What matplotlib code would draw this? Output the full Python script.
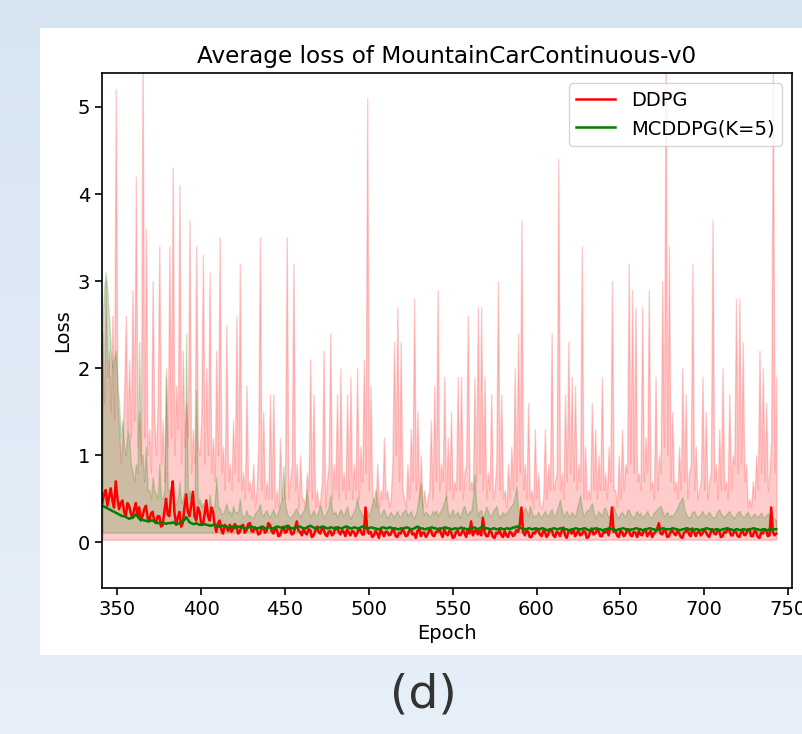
import numpy as np
import matplotlib
matplotlib.use('Agg')
import matplotlib.pyplot as plt
from matplotlib.colors import LinearSegmentedColormap
from matplotlib.patches import Rectangle

# one value per epoch
epochs = np.arange(341, 744)

# DDPG: upper edge of the shaded band, its (almost flat) floor, and the mean
ddpg_hi = [
    2.4, 1.6, 3.0, 1.9, 2.2, 1.5, 2.6, 1.4, 5.2, 1.6, 1.3, 0.9, 1.2, 1.7, 2.6, 1.3, 2.1, 1.2, 2.9, 1.4,
    4.2, 1.1, 1.5, 0.9, 5.6, 1.2, 3.6, 1.0, 1.3, 0.8, 3.0, 1.4, 1.0, 1.6, 3.4, 0.9, 1.4, 0.7, 2.0, 1.1,
    3.4, 1.2, 4.3, 1.0, 1.8, 1.3, 4.1, 0.9, 2.2, 1.1, 1.6, 1.2, 3.7, 0.8, 1.3, 0.9, 3.4, 1.1, 1.0, 1.4,
    3.3, 0.9, 2.0, 1.0, 3.1, 0.8, 1.2, 0.7, 2.2, 1.0, 3.5, 0.8, 1.1, 0.6, 2.5, 0.7, 0.9, 0.6, 1.4, 0.8,
    2.6, 0.7, 3.2, 0.6, 0.8, 0.5, 1.8, 0.6, 0.7, 0.5, 0.9, 0.4, 0.6, 1.1, 3.5, 0.6, 1.5, 0.5, 0.7, 0.5,
    1.7, 0.5, 1.7, 0.4, 0.6, 0.4, 1.2, 0.5, 0.5, 0.8, 3.5, 0.5, 0.7, 0.9, 3.2, 0.6, 0.9, 0.4, 1.0, 0.5,
    0.5, 0.4, 0.8, 0.6, 2.1, 0.5, 1.7, 0.4, 0.6, 0.4, 0.5, 0.7, 2.2, 0.4, 0.7, 0.9, 2.4, 0.5, 0.9, 0.6,
    1.7, 0.5, 2.0, 0.6, 0.8, 0.5, 1.7, 0.6, 1.9, 0.5, 0.9, 0.6, 2.0, 0.5, 1.1, 0.7, 2.1, 0.8, 5.1, 0.6,
    1.8, 0.5, 0.5, 0.4, 0.9, 0.4, 0.6, 0.5, 1.2, 0.5, 0.6, 0.4, 0.5, 0.9, 2.3, 1.0, 2.7, 0.7, 2.3, 0.6,
    0.5, 0.4, 0.9, 0.5, 1.3, 0.7, 2.8, 0.6, 1.5, 0.5, 1.0, 0.4, 0.6, 0.4, 0.5, 0.6, 1.4, 0.5, 1.8, 0.7,
    2.9, 0.6, 0.9, 0.7, 1.9, 0.5, 1.2, 0.6, 1.5, 0.5, 0.7, 0.6, 1.9, 0.6, 1.9, 0.5, 0.8, 0.9, 2.6, 0.6,
    0.7, 0.6, 1.9, 0.7, 2.7, 0.8, 2.7, 0.6, 1.9, 0.5, 0.8, 0.6, 1.7, 0.5, 0.6, 0.9, 3.0, 0.6, 1.7, 0.5,
    0.6, 0.4, 0.9, 0.5, 1.1, 0.6, 2.0, 0.7, 2.4, 0.8, 3.7, 0.6, 0.9, 0.5, 1.6, 0.5, 0.6, 0.4, 1.3, 0.5,
    0.8, 0.4, 0.4, 0.5, 1.3, 0.5, 0.9, 0.6, 2.4, 0.6, 0.7, 0.8, 4.4, 0.6, 0.8, 0.5, 1.7, 0.7, 2.3, 0.8,
    1.9, 0.7, 1.8, 0.6, 0.9, 0.7, 3.4, 0.5, 1.1, 0.5, 0.6, 0.5, 1.6, 0.6, 1.3, 0.5, 1.0, 0.6, 1.9, 0.6,
    0.8, 0.5, 1.1, 0.7, 3.0, 0.6, 0.6, 0.4, 1.0, 0.5, 1.3, 0.6, 0.9, 0.8, 3.2, 0.9, 2.9, 0.8, 2.7, 0.7,
    0.8, 0.6, 2.7, 0.7, 1.2, 0.8, 2.9, 0.6, 0.7, 0.5, 1.9, 0.6, 1.0, 0.8, 3.0, 1.1, 5.6, 1.0, 3.4, 0.7,
    1.5, 0.6, 0.7, 0.5, 1.1, 0.6, 2.0, 0.7, 1.7, 0.5, 0.8, 0.9, 3.2, 0.6, 1.1, 0.5, 0.6, 0.7, 1.9, 0.6,
    1.5, 0.5, 0.7, 0.8, 3.7, 0.7, 0.9, 0.5, 1.3, 0.6, 2.0, 0.6, 0.7, 0.5, 1.7, 0.6, 1.0, 0.9, 2.8, 0.8,
    2.8, 0.9, 2.3, 0.7, 0.9, 0.4, 0.5, 0.4, 0.7, 0.5, 1.0, 0.6, 2.2, 0.8, 2.0, 0.7, 1.6, 0.6, 0.8, 1.2,
    5.6, 0.8, 1.9,
]
ddpg_lo = 0.03
ddpg_mean = [
    0.45, 0.55, 0.60, 0.42, 0.52, 0.62, 0.48, 0.40, 0.70, 0.50, 0.38, 0.45, 0.48, 0.35, 0.30, 0.45, 0.42, 0.33, 0.28, 0.38,
    0.45, 0.30, 0.40, 0.25, 0.30, 0.38, 0.42, 0.28, 0.25, 0.33, 0.35, 0.24, 0.22, 0.30, 0.30, 0.18, 0.20, 0.35, 0.50, 0.32,
    0.30, 0.55, 0.70, 0.35, 0.20, 0.28, 0.35, 0.18, 0.22, 0.40, 0.55, 0.35, 0.30, 0.42, 0.58, 0.30, 0.25, 0.40, 0.35, 0.22,
    0.20, 0.32, 0.48, 0.30, 0.25, 0.40, 0.35, 0.20, 0.12, 0.22, 0.25, 0.14, 0.10, 0.20, 0.18, 0.13, 0.20, 0.12, 0.15, 0.21,
    0.18, 0.10, 0.12, 0.19, 0.20, 0.11, 0.14, 0.21, 0.22, 0.13, 0.12, 0.17, 0.16, 0.09, 0.10, 0.16, 0.18, 0.11, 0.13, 0.22,
    0.20, 0.13, 0.10, 0.16, 0.15, 0.07, 0.08, 0.14, 0.18, 0.11, 0.12, 0.19, 0.15, 0.09, 0.10, 0.17, 0.24, 0.13, 0.12, 0.08,
    0.16, 0.11, 0.09, 0.15, 0.14, 0.06, 0.08, 0.13, 0.18, 0.12, 0.10, 0.16, 0.15, 0.09, 0.07, 0.12, 0.13, 0.08, 0.10, 0.17,
    0.16, 0.12, 0.09, 0.14, 0.12, 0.07, 0.15, 0.11, 0.08, 0.13, 0.12, 0.07, 0.10, 0.16, 0.14, 0.09, 0.09, 0.40, 0.15, 0.10,
    0.12, 0.06, 0.08, 0.13, 0.10, 0.05, 0.15, 0.11, 0.07, 0.12, 0.12, 0.08, 0.09, 0.14, 0.14, 0.07, 0.06, 0.11, 0.10, 0.15,
    0.12, 0.07, 0.08, 0.13, 0.15, 0.09, 0.10, 0.05, 0.13, 0.16, 0.07, 0.11, 0.11, 0.06, 0.09, 0.14, 0.14, 0.08, 0.07, 0.12,
    0.12, 0.16, 0.10, 0.06, 0.15, 0.10, 0.08, 0.13, 0.12, 0.05, 0.06, 0.12, 0.13, 0.08, 0.09, 0.14, 0.11, 0.06, 0.14, 0.10,
    0.24, 0.08, 0.12, 0.15, 0.09, 0.13, 0.08, 0.28, 0.12, 0.07, 0.07, 0.13, 0.12, 0.06, 0.05, 0.11, 0.10, 0.14, 0.08, 0.06,
    0.13, 0.08, 0.06, 0.12, 0.11, 0.07, 0.09, 0.14, 0.12, 0.20, 0.40, 0.12, 0.08, 0.14, 0.12, 0.06, 0.06, 0.11, 0.10, 0.15,
    0.14, 0.09, 0.07, 0.13, 0.12, 0.06, 0.09, 0.15, 0.15, 0.08, 0.06, 0.12, 0.11, 0.07, 0.13, 0.17, 0.08, 0.05, 0.12, 0.14,
    0.10, 0.15, 0.07, 0.10, 0.14, 0.08, 0.09, 0.13, 0.12, 0.05, 0.06, 0.12, 0.16, 0.09, 0.10, 0.14, 0.13, 0.07, 0.07, 0.12,
    0.11, 0.15, 0.08, 0.18, 0.40, 0.12, 0.14, 0.08, 0.06, 0.13, 0.12, 0.07, 0.09, 0.14, 0.15, 0.08, 0.07, 0.12, 0.11, 0.06,
    0.13, 0.09, 0.08, 0.14, 0.15, 0.07, 0.10, 0.13, 0.06, 0.10, 0.12, 0.16, 0.22, 0.10, 0.09, 0.14, 0.13, 0.06, 0.07, 0.12,
    0.14, 0.10, 0.08, 0.13, 0.11, 0.06, 0.05, 0.11, 0.12, 0.16, 0.09, 0.07, 0.16, 0.12, 0.07, 0.11, 0.13, 0.08, 0.10, 0.15,
    0.12, 0.08, 0.06, 0.12, 0.15, 0.10, 0.09, 0.14, 0.13, 0.06, 0.07, 0.12, 0.11, 0.16, 0.14, 0.08, 0.08, 0.13, 0.12, 0.07,
    0.06, 0.11, 0.13, 0.08, 0.09, 0.15, 0.15, 0.07, 0.07, 0.13, 0.12, 0.06, 0.05, 0.11, 0.10, 0.15, 0.14, 0.07, 0.08, 0.40,
    0.12, 0.08, 0.10,
]

# MCDDPG(K=5)
mc_hi = [
    2.5, 2.9, 3.1, 2.9, 2.6, 2.2, 2.0, 2.1, 2.2, 1.8, 1.6, 1.2, 1.4, 1.1, 1.0, 1.3, 1.2, 0.9, 0.8, 0.7,
    0.9, 0.8, 2.3, 1.0, 1.0, 0.7, 1.1, 0.6, 0.6, 0.5, 0.75, 0.6, 0.55, 0.5, 0.9, 0.5, 0.5, 0.6, 1.9, 0.6,
    0.6, 0.45, 0.5, 0.4, 0.45, 0.5, 0.7, 0.45, 0.5, 0.6, 2.4, 0.5, 0.6, 0.45, 0.5, 0.55, 1.75, 0.45, 0.5, 0.4,
    0.45, 0.38, 0.4, 0.35, 0.55, 0.4, 0.38, 0.45, 0.75, 0.4, 0.4, 0.32, 0.33, 0.38, 0.45, 0.34, 0.36, 0.31, 0.42, 0.35,
    0.34, 0.36, 0.5, 0.33, 0.29, 0.31, 0.37, 0.3, 0.31, 0.28, 0.28, 0.33, 0.36, 0.38, 0.44, 0.32, 0.3, 0.35, 0.37, 0.31,
    0.29, 0.34, 0.38, 0.31, 0.31, 0.36, 0.42, 0.5, 0.88, 0.45, 0.34, 0.3, 0.28, 0.31, 0.33, 0.37, 0.39, 0.32, 0.3, 0.33,
    0.36, 0.42, 0.61, 0.38, 0.29, 0.33, 0.37, 0.31, 0.31, 0.36, 0.43, 0.35, 0.28, 0.32, 0.36, 0.4, 0.54, 0.37, 0.32, 0.35,
    0.29, 0.33, 0.38, 0.34, 0.3, 0.36, 0.41, 0.31, 0.27, 0.32, 0.35, 0.4, 0.52, 0.38, 0.36, 0.31, 0.29, 0.34, 0.36, 0.3,
    0.37, 0.45, 0.52, 0.61, 0.46, 0.33, 0.3, 0.35, 0.38, 0.31, 0.28, 0.32, 0.35, 0.31, 0.29, 0.33, 0.36, 0.3, 0.29, 0.34,
    0.36, 0.38, 0.3, 0.33, 0.36, 0.3, 0.28, 0.33, 0.42, 0.55, 0.69, 0.4, 0.31, 0.35, 0.33, 0.29, 0.31, 0.36, 0.32, 0.37,
    0.3, 0.34, 0.36, 0.41, 0.47, 0.54, 0.36, 0.29, 0.34, 0.38, 0.3, 0.33, 0.35, 0.28, 0.32, 0.39, 0.42, 0.34, 0.31, 0.36,
    0.35, 0.5, 0.78, 0.45, 0.3, 0.36, 0.37, 0.29, 0.33, 0.41, 0.36, 0.3, 0.31, 0.36, 0.38, 0.42, 0.33, 0.28, 0.32, 0.35,
    0.31, 0.34, 0.36, 0.4, 0.42, 0.45, 0.52, 0.65, 0.4, 0.34, 0.29, 0.33, 0.4, 0.36, 0.3, 0.42, 0.36, 0.29, 0.31, 0.3,
    0.35, 0.31, 0.28, 0.33, 0.36, 0.31, 0.3, 0.35, 0.38, 0.32, 0.3, 0.36, 0.42, 0.49, 0.38, 0.29, 0.33, 0.36, 0.31, 0.3,
    0.35, 0.32, 0.29, 0.38, 0.45, 0.54, 0.4, 0.3, 0.33, 0.37, 0.36, 0.41, 0.45, 0.36, 0.28, 0.31, 0.36, 0.33, 0.3, 0.38,
    0.4, 0.33, 0.29, 0.31, 0.36, 0.42, 0.35, 0.3, 0.28, 0.33, 0.35, 0.31, 0.29, 0.36, 0.38, 0.32, 0.3, 0.28, 0.34, 0.36,
    0.31, 0.34, 0.29, 0.3, 0.33, 0.36, 0.31, 0.28, 0.3, 0.34, 0.36, 0.38, 0.4, 0.42, 0.36, 0.3, 0.33, 0.35, 0.29, 0.31,
    0.3, 0.33, 0.36, 0.4, 0.45, 0.48, 0.52, 0.4, 0.33, 0.3, 0.28, 0.31, 0.35, 0.36, 0.31, 0.29, 0.3, 0.33, 0.36, 0.31,
    0.3, 0.33, 0.35, 0.31, 0.29, 0.28, 0.32, 0.36, 0.38, 0.33, 0.3, 0.29, 0.32, 0.34, 0.36, 0.31, 0.3, 0.28, 0.31, 0.35,
    0.36, 0.32, 0.29, 0.3, 0.33, 0.35, 0.3, 0.28, 0.31, 0.33, 0.3, 0.29, 0.32, 0.34, 0.3, 0.28, 0.31, 0.33, 0.29, 0.3,
    0.28, 0.27, 0.25,
]
mc_lo = 0.11
mc_mean = [
    0.42, 0.41, 0.40, 0.39, 0.38, 0.37, 0.36, 0.35, 0.34, 0.33, 0.32, 0.31, 0.30, 0.30, 0.29, 0.28, 0.27, 0.28, 0.28, 0.30,
    0.32, 0.30, 0.27, 0.26, 0.26, 0.25, 0.25, 0.24, 0.24, 0.25, 0.25, 0.24, 0.23, 0.22, 0.22, 0.23, 0.23, 0.22, 0.21, 0.22,
    0.22, 0.22, 0.23, 0.22, 0.21, 0.21, 0.22, 0.23, 0.24, 0.26, 0.29, 0.26, 0.23, 0.22, 0.21, 0.21, 0.22, 0.21, 0.20, 0.20,
    0.21, 0.21, 0.20, 0.20, 0.19, 0.19, 0.20, 0.20, 0.19, 0.18, 0.18, 0.19, 0.19, 0.18, 0.18, 0.17, 0.17, 0.18, 0.18, 0.17,
    0.17, 0.18, 0.18, 0.17, 0.17, 0.16, 0.16, 0.17, 0.18, 0.18, 0.17, 0.17, 0.16, 0.16, 0.17, 0.18, 0.17, 0.16, 0.16, 0.17,
    0.17, 0.16, 0.16, 0.17, 0.18, 0.18, 0.17, 0.17, 0.16, 0.17, 0.19, 0.18, 0.17, 0.16, 0.16, 0.17, 0.17, 0.18, 0.18, 0.17,
    0.16, 0.16, 0.17, 0.18, 0.19, 0.18, 0.17, 0.16, 0.16, 0.17, 0.17, 0.18, 0.18, 0.17, 0.16, 0.16, 0.17, 0.17, 0.16, 0.16,
    0.17, 0.17, 0.16, 0.16, 0.17, 0.18, 0.18, 0.17, 0.16, 0.16, 0.17, 0.17, 0.16, 0.16, 0.17, 0.18, 0.18, 0.17, 0.16, 0.16,
    0.17, 0.17, 0.16, 0.16, 0.15, 0.15, 0.16, 0.17, 0.17, 0.16, 0.16, 0.17, 0.17, 0.16, 0.16, 0.16, 0.15, 0.15, 0.16, 0.16,
    0.16, 0.17, 0.17, 0.16, 0.15, 0.15, 0.16, 0.17, 0.18, 0.17, 0.16, 0.16, 0.15, 0.15, 0.16, 0.16, 0.17, 0.17, 0.16, 0.16,
    0.15, 0.15, 0.16, 0.16, 0.17, 0.17, 0.16, 0.16, 0.15, 0.15, 0.16, 0.16, 0.15, 0.16, 0.17, 0.16, 0.16, 0.15, 0.15, 0.16,
    0.16, 0.17, 0.17, 0.16, 0.15, 0.16, 0.17, 0.18, 0.17, 0.16, 0.16, 0.15, 0.15, 0.16, 0.16, 0.15, 0.15, 0.16, 0.16, 0.15,
    0.15, 0.16, 0.16, 0.15, 0.16, 0.17, 0.17, 0.18, 0.18, 0.17, 0.16, 0.16, 0.15, 0.15, 0.16, 0.16, 0.15, 0.15, 0.16, 0.16,
    0.15, 0.15, 0.16, 0.16, 0.15, 0.14, 0.14, 0.15, 0.15, 0.16, 0.16, 0.15, 0.15, 0.16, 0.16, 0.15, 0.15, 0.15, 0.14, 0.14,
    0.15, 0.15, 0.16, 0.16, 0.15, 0.15, 0.15, 0.16, 0.16, 0.15, 0.14, 0.14, 0.15, 0.15, 0.16, 0.16, 0.15, 0.15, 0.14, 0.14,
    0.15, 0.15, 0.16, 0.16, 0.15, 0.15, 0.14, 0.14, 0.15, 0.15, 0.16, 0.16, 0.15, 0.15, 0.14, 0.14, 0.15, 0.15, 0.16, 0.16,
    0.15, 0.15, 0.14, 0.14, 0.15, 0.15, 0.16, 0.16, 0.15, 0.15, 0.14, 0.14, 0.15, 0.15, 0.16, 0.16, 0.15, 0.15, 0.15, 0.15,
    0.16, 0.16, 0.15, 0.15, 0.14, 0.14, 0.15, 0.15, 0.16, 0.16, 0.15, 0.15, 0.14, 0.14, 0.15, 0.15, 0.14, 0.14, 0.15, 0.15,
    0.16, 0.16, 0.15, 0.15, 0.14, 0.14, 0.15, 0.15, 0.14, 0.14, 0.15, 0.15, 0.16, 0.16, 0.15, 0.15, 0.14, 0.14, 0.15, 0.15,
    0.14, 0.14, 0.15, 0.15, 0.14, 0.14, 0.15, 0.15, 0.16, 0.16, 0.15, 0.15, 0.14, 0.14, 0.15, 0.15, 0.14, 0.14, 0.15, 0.15,
    0.14, 0.15, 0.15,
]

xticks = [350, 400, 450, 500, 550, 600, 650, 700, 750]
yticks = [0, 1, 2, 3, 4, 5]

W, H = 802, 734
fig = plt.figure(figsize=(W / 100, H / 100), dpi=100)

# light blue page behind the white figure panel
bg = fig.add_axes([0, 0, 1, 1], zorder=-2)
cmap = LinearSegmentedColormap.from_list('page', ['#d7e5f2', '#e7eff9'])
bg.imshow(np.linspace(0, 1, 256).reshape(-1, 1), aspect='auto', cmap=cmap,
          extent=[0, 1, 0, 1])
bg.axis('off')
fig.patches.append(Rectangle((40 / W, 1 - 655 / H), 1, (655 - 28) / H,
                             transform=fig.transFigure, facecolor='white',
                             edgecolor='none', zorder=-1))

ax = fig.add_axes([102 / W, 1 - 588 / H, (792 - 102) / W, (588 - 73) / H])
ax.fill_between(epochs, ddpg_lo, ddpg_hi, color='red', alpha=0.2)
ax.fill_between(epochs, mc_lo, mc_hi, color='green', alpha=0.2)
ax.plot(epochs, ddpg_mean, color='red', lw=1.8, label='DDPG')
ax.plot(epochs, mc_mean, color='green', lw=1.8, label='MCDDPG(K=5)')

ax.set_xlim(340.8, 752.4)
ax.set_ylim(-0.525, 5.39)
ax.set_xticks(xticks)
ax.set_yticks(yticks)
ax.tick_params(labelsize=14, length=5, width=1.2)
for s in ax.spines.values():
    s.set_linewidth(1.2)
ax.set_title('Average loss of MountainCarContinuous-v0', fontsize=16.7, pad=7)
ax.set_xlabel('Epoch', fontsize=14)
ax.set_ylabel('Loss', fontsize=14)
ax.legend(loc='upper right', fontsize=14)

fig.text(423 / W, 1 - 695 / H, '(d)', ha='center', va='center',
         fontsize=34, color='#333333')

fig.savefig('out.png', dpi=100)
